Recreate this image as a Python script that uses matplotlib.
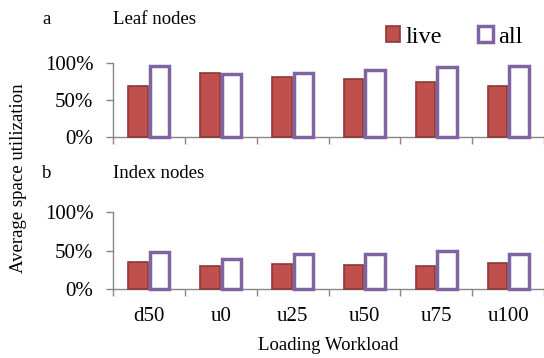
import matplotlib
matplotlib.use("Agg")
import matplotlib.pyplot as plt
import numpy as np
from matplotlib.ticker import FuncFormatter, FixedLocator

categories = ["d50", "u0", "u25", "u50", "u75", "u100"]
leaf_live = [0.69, 0.86, 0.81, 0.78, 0.75, 0.69]
leaf_all = [0.96, 0.85, 0.865, 0.905, 0.94, 0.96]
index_live = [0.35, 0.30, 0.33, 0.31, 0.30, 0.34]
index_all = [0.477, 0.39, 0.46, 0.46, 0.49, 0.46]
yticks = [0.0, 0.5, 1.0]

plt.rcParams['font.family'] = ['Liberation Serif', 'DejaVu Serif']

W, H = 544, 358
fig = plt.figure(figsize=(W / 100, H / 100), dpi=100)

live_face = "#C0504D"
live_edge = "#8C3836"
all_edge = "#8064A2"
spine_c = "#868686"

def px_axes(left, right, top, bottom):
    return fig.add_axes([left / W, 1 - bottom / H, (right - left) / W, (bottom - top) / H])

ax1 = px_axes(113, 544, 63, 137)
ax2 = px_axes(113, 544, 212.3, 289)

x = np.arange(len(categories))
bw = 0.27
off = 0.15

def draw(ax, live, allv, show_labels):
    ax.bar(x - off, live, bw, color=live_face, edgecolor=live_edge, linewidth=1.2, label="live", zorder=3)
    ax.bar(x + off, allv, bw, color="white", edgecolor=all_edge, linewidth=2.5, label="all", zorder=3)
    ax.set_xlim(-0.5, len(categories) - 0.5)
    ax.set_ylim(0, 1.0)
    ax.yaxis.set_major_locator(FixedLocator(yticks))
    ax.yaxis.set_major_formatter(FuncFormatter(lambda v, p: f"{int(round(v * 100))}%"))
    ax.set_xticks(np.arange(len(categories) + 1) - 0.5)
    ax.set_xticklabels([])
    ax.set_xticks(x, minor=True)
    if show_labels:
        ax.set_xticklabels(categories, minor=True)
    ax.tick_params(axis='x', which='minor', length=0, labelsize=15, pad=13)
    ax.tick_params(axis='x', which='major', length=5, width=1, color=spine_c, direction='out')
    ax.tick_params(axis='y', length=5, width=1, color=spine_c, direction='out', labelsize=15, pad=9)
    for s in ['top', 'right']:
        ax.spines[s].set_visible(False)
    for s in ['left', 'bottom']:
        ax.spines[s].set_color(spine_c)
        ax.spines[s].set_linewidth(1)
    ax.patch.set_alpha(0)

draw(ax1, leaf_live, leaf_all, False)
draw(ax2, index_live, index_all, True)

for a in (ax1, ax2):
    for p in a.patches:
        p.set_clip_on(False)

h, l = ax1.get_legend_handles_labels()
fig.legend(h, l, loc='center', bbox_to_anchor=(454 / W, 1 - 37 / H), ncol=2, frameon=False,
           fontsize=17.5, handlelength=0.6, handleheight=0.6, handletextpad=0.2,
           columnspacing=1.5, borderpad=0)

fig.text(42 / W, 1 - 24 / H, "a", fontsize=13.5, va='baseline', ha='left')
fig.text(113 / W, 1 - 24 / H, "Leaf nodes", fontsize=13.5, va='baseline', ha='left')
fig.text(42 / W, 1 - 178 / H, "b", fontsize=13.5, va='baseline', ha='left')
fig.text(113 / W, 1 - 178 / H, "Index nodes", fontsize=13.5, va='baseline', ha='left')
fig.text(19 / W, 1 - 178 / H, "Average space utilization", fontsize=13.5, rotation=90,
         va='center', ha='center')
fig.text(328.5 / W, 1 - 350 / H, "Loading Workload", fontsize=13.5, va='baseline', ha='center')

fig.savefig("out.png", dpi=100)
